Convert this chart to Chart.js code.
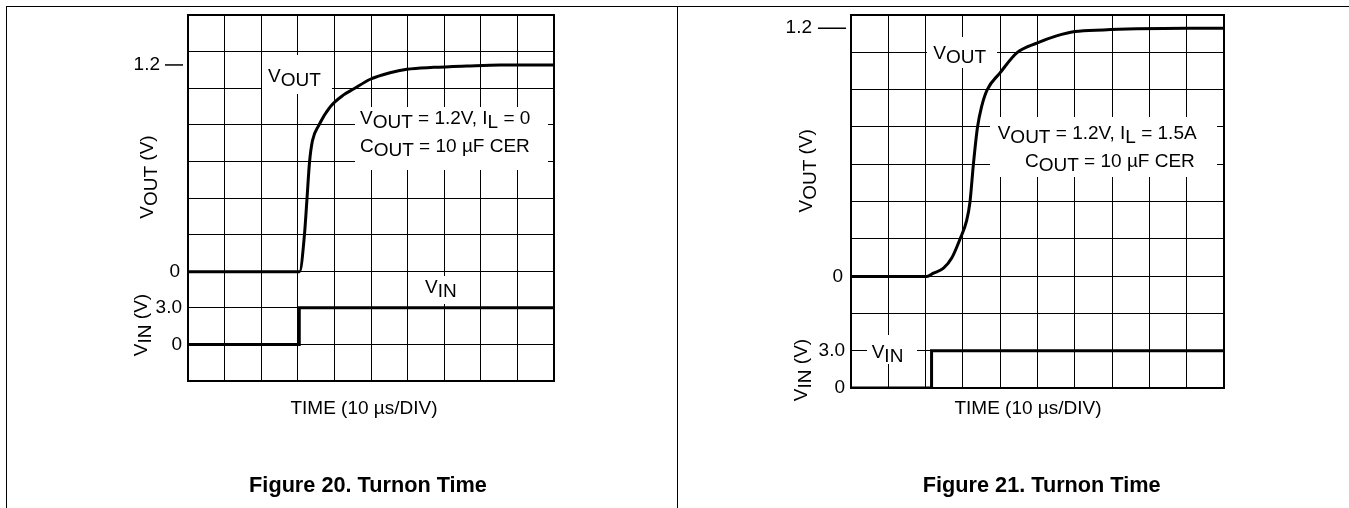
<!DOCTYPE html>
<html>
<head>
<meta charset="utf-8">
<script src="https://cdn.jsdelivr.net/npm/chart.js@4.4.1/dist/chart.umd.min.js"></script>
<style>
  html, body { margin: 0; padding: 0; background: #fff; }
  body { width: 1349px; height: 508px; position: relative; overflow: hidden; }
  canvas { position: absolute; top: 0; }
  #fig20 { left: 0; }
  #fig21 { left: 677px; }
  .rule { position: absolute; background: #000; z-index: 2; }
</style>
</head>
<body>
<canvas id="fig20" width="677" height="508"></canvas>
<canvas id="fig21" width="672" height="508"></canvas>
<div class="rule" style="left:6px; top:6px; width:1343px; height:1px"></div>
<div class="rule" style="left:6px; top:6px; width:1px; height:502px"></div>
<div class="rule" style="left:677px; top:6px; width:1px; height:502px"></div>
<script>
// time axis: 10 µs per division, 10 divisions
const timeMin = 0
const timeMax = 100
const timeStep = 10

// Figure 20: VOUT = 1.2V, IL = 0
const fig20VoutTime = [0, 30.5, 31.8, 32.5, 33.2, 34.0, 35.7, 38.9, 42.5, 45.2, 49.8, 55.2, 59.8, 67.1, 76.2, 85.3, 100]
const fig20Vout = [0, 0, 0.21, 0.42, 0.635, 0.76, 0.848, 0.958, 1.026, 1.06, 1.117, 1.155, 1.175, 1.186, 1.194, 1.2, 1.2]
const fig20VinTime = [0, 30.4, 100]
const fig20Vin = [0, 3.0, 3.0]

// Figure 21: VOUT = 1.2V, IL = 1.5A
const fig21VoutTime = [0, 20.3, 22.1, 24.8, 27.0, 29.2, 31.0, 31.9, 32.8, 33.9, 35.0, 36.5, 39.9, 44.6, 49.8, 55.1, 60.0, 67.7, 76.6, 90, 100]
const fig21Vout = [0, 0, 0.016, 0.04, 0.089, 0.18, 0.27, 0.36, 0.54, 0.72, 0.82, 0.902, 0.983, 1.083, 1.128, 1.163, 1.184, 1.192, 1.197, 1.2, 1.2]
const fig21VinTime = [0, 21.6, 100]
const fig21Vin = [0, 3.0, 3.0]

// tick labels shown on the left of each plot
const voutTicks = [0, 1.2]
const vinTicks = [0, 3.0]

const FONT = '"Liberation Sans", Arial, Helvetica, sans-serif'

const fmt = (v) => (v === 0 ? "0" : v.toFixed(1))
const toPoints = (xs, ys) => xs.map((x, i) => ({ x, y: ys[i] }))

const VOUT = [["V"], ["OUT", 1]]
const VIN = [["V"], ["IN", 1]]

const panels = [
  {
    id: "fig20",
    area: { left: 188, top: 15, right: 554, bottom: 381 },
    vout: toPoints(fig20VoutTime, fig20Vout),
    vin: toPoints(fig20VinTime, fig20Vin),
    voutRange: [-0.635, 1.49],
    vinRange: [-3, 27],
    topTick: { label: -28, dash: -23 },
    boxes: [[74, 40, 70, 39], [167, 92, 193, 63], [230, 261, 45, 28]],
    labels: [
      { parts: VOUT, x: 80, y: 66.7 },
      { parts: [...VOUT, [" = 1.2V, I"], ["L", 1], [" = 0"]], x: 172, y: 109 },
      { parts: [["C"], ["OUT", 1], [" = 10 µF CER"]], x: 172, y: 136.7 },
      { parts: VIN, x: 237, y: 278 }
    ],
    titles: [
      { parts: [...VOUT, [" (V)"]], x: -35, y: 162 },
      { parts: [...VIN, [" (V)"]], x: -41, y: 310 }
    ],
    timeX: 176,
    caption: "Figure 20. Turnon Time",
    captionX: 180
  },
  {
    id: "fig21",
    area: { left: 174, top: 15, right: 547, bottom: 388 },
    vout: toPoints(fig21VoutTime, fig21Vout),
    vin: toPoints(fig21VinTime, fig21Vin),
    voutRange: [-0.539, 1.264],
    vinRange: [0, 30],
    topTick: { label: -39, dash: -33 },
    boxes: [[76, 22, 70, 31], [139, 102, 227, 60], [16, 320, 50, 29]],
    labels: [
      { parts: VOUT, x: 82.3, y: 44.3 },
      { parts: [...VOUT, [" = 1.2V, I"], ["L", 1], [" = 1.5A"]], x: 146.7, y: 124.3 },
      { parts: [["C"], ["OUT", 1], [" = 10 µF CER"]], x: 174, y: 151.7 },
      { parts: VIN, x: 20.7, y: 343.3 }
    ],
    titles: [
      { parts: [...VOUT, [" (V)"]], x: -39.3, y: 155.8 },
      { parts: [...VIN, [" (V)"]], x: -44.3, y: 355 }
    ],
    timeX: 177,
    caption: "Figure 21. Turnon Time",
    captionX: 190.7
  }
]

// text with same-size, lowered subscripts
function drawRich(ctx, parts, x, y, rotated) {
  ctx.save()
  ctx.font = `19px ${FONT}`
  ctx.fillStyle = "#000"
  ctx.textAlign = "left"
  ctx.textBaseline = "alphabetic"
  const widths = parts.map(([t]) => ctx.measureText(t).width)
  const total = widths.reduce((a, b) => a + b, 0)
  ctx.translate(x, y)
  if (rotated) ctx.rotate(-Math.PI / 2)
  let cx = rotated ? -total / 2 : 0
  parts.forEach(([t, sub], i) => {
    ctx.fillText(t, cx, sub ? 4 : 0)
    cx += widths[i]
  })
  ctx.restore()
}

function makePlugin(p) {
  return {
    id: "turnon-" + p.id,
    beforeDatasetsDraw(chart) {
      const { ctx, chartArea: a } = chart
      ctx.save()
      ctx.fillStyle = "#fff"
      p.boxes.forEach(([x, y, w, h]) => ctx.fillRect(a.left + x, a.top + y, w, h))
      ctx.restore()
    },
    afterDatasetsDraw(chart) {
      const { ctx, chartArea: a, scales } = chart
      ctx.save()
      ctx.strokeStyle = "#000"
      ctx.lineWidth = 2
      ctx.strokeRect(a.left, a.top, a.right - a.left, a.bottom - a.top)

      ctx.font = `19px ${FONT}`
      ctx.fillStyle = "#000"
      ctx.textAlign = "right"
      ctx.textBaseline = "middle"
      voutTicks.forEach((v) => {
        const y = scales.yV.getPixelForValue(v)
        if (v === 0) {
          ctx.fillText(fmt(v), a.left - 8, y)
        } else {
          ctx.fillText(fmt(v), a.left + p.topTick.label, y)
          ctx.lineWidth = 1.5
          ctx.beginPath()
          ctx.moveTo(a.left + p.topTick.dash, y)
          ctx.lineTo(a.left - 5, y)
          ctx.stroke()
        }
      })
      vinTicks.forEach((v) => ctx.fillText(fmt(v), a.left - 6, scales.yIn.getPixelForValue(v)))

      ctx.textAlign = "center"
      ctx.textBaseline = "alphabetic"
      ctx.fillText("TIME (10 µs/DIV)", a.left + p.timeX, 414)
      ctx.font = `bold 21.7px ${FONT}`
      ctx.fillText(p.caption, a.left + p.captionX, 492)
      ctx.restore()

      p.labels.forEach((l) => drawRich(ctx, l.parts, a.left + l.x, a.top + l.y, false))
      p.titles.forEach((t) => drawRich(ctx, t.parts, a.left + t.x, a.top + t.y, true))
    }
  }
}

const noSize = (horizontal) => (scale) => {
  if (horizontal) scale.height = 0
  else scale.width = 0
}

panels.forEach((p) => {
  const canvas = document.getElementById(p.id)
  new Chart(canvas, {
    type: "line",
    data: {
      datasets: [
        {
          label: "VOUT",
          data: p.vout,
          yAxisID: "yV",
          borderColor: "#000",
          borderWidth: 3,
          pointRadius: 0,
          cubicInterpolationMode: "monotone",
          fill: false
        },
        {
          label: "VIN",
          data: p.vin,
          yAxisID: "yIn",
          borderColor: "#000",
          borderWidth: 3,
          pointRadius: 0,
          stepped: "before",
          fill: false
        }
      ]
    },
    options: {
      responsive: false,
      animation: false,
      events: [],
      layout: {
        autoPadding: false,
        padding: {
          left: p.area.left,
          top: p.area.top,
          right: canvas.width - p.area.right,
          bottom: canvas.height - p.area.bottom
        }
      },
      plugins: { legend: { display: false }, tooltip: { enabled: false } },
      scales: {
        x: {
          type: "linear",
          min: timeMin,
          max: timeMax,
          ticks: { stepSize: timeStep, display: false },
          grid: { color: "#000", lineWidth: 1, drawTicks: false },
          border: { display: false },
          afterFit: noSize(true)
        },
        yV: {
          type: "linear",
          position: "left",
          min: p.voutRange[0],
          max: p.voutRange[1],
          ticks: { display: false },
          grid: { display: false },
          border: { display: false },
          afterFit: noSize(false)
        },
        yIn: {
          type: "linear",
          position: "left",
          min: p.vinRange[0],
          max: p.vinRange[1],
          ticks: { stepSize: 3, display: false },
          grid: { color: "#000", lineWidth: 1, drawTicks: false },
          border: { display: false },
          afterFit: noSize(false)
        }
      }
    },
    plugins: [makePlugin(p)]
  })
})
</script>
</body>
</html>
